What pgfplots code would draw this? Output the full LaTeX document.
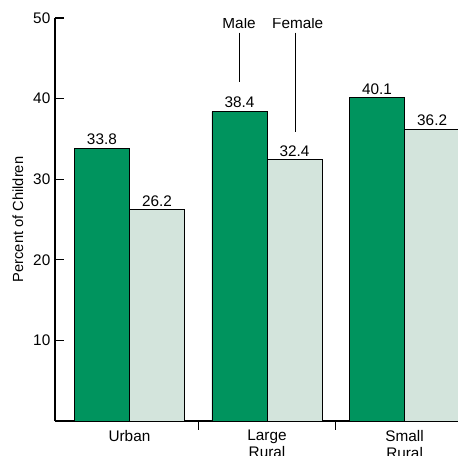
\documentclass[border=0pt]{standalone}
\usepackage{pgfplots}
\pgfplotsset{compat=1.18}
\usepackage{fontspec}
\setmainfont{Liberation Sans}
\definecolor{male}{RGB}{0,148,94}
\definecolor{female}{RGB}{211,228,220}
\begin{document}
\begin{tikzpicture}
\clip (-41.25pt,-25.5pt) rectangle (302.25pt,315.75pt);
\begin{axis}[
  at={(0,0)}, anchor=south west,
  scale only axis, width=302.25pt, height=302.25pt,
  xmin=-0.541, xmax=2.388, ymin=0, ymax=50,
  axis x line=bottom, axis y line=left,
  axis line style={-, line width=0.9pt},
  ytick={10,20,30,40,50},
  xtick={0.5,1.5}, xticklabels={},
  extra x ticks={0,1,2},
  extra x tick labels={Urban,{Large\\Rural},{Small\\Rural}},
  extra x tick style={major tick length=0pt, tick style={draw=none}},
  xticklabel style={align=center, font=\fontsize{11.5}{12.8}\selectfont, yshift=-3.5pt},
  yticklabel style={font=\fontsize{11.5}{13}\selectfont},
  /pgf/number format/assume math mode=true,
  tick align=inside,
  major tick length=6.5pt,
  tick style={line width=0.9pt, black},
  ylabel={Percent of Children},
  ylabel style={at={(axis description cs:-0.0918,0.5)}, anchor=center, rotate=0, font=\fontsize{11}{13}\selectfont},
  clip=true,
  nodes near coords={\pgfmathprintnumber[fixed,fixed zerofill,precision=1,assume math mode=true]{\pgfplotspointmeta}},
  every node near coord/.append style={font=\fontsize{11.5}{13}\selectfont, black, yshift=-1pt},
  ybar, bar width=0.4,
]
\addplot[fill=male, draw=black, line width=0.6pt, bar shift=-0.2] coordinates {(0,33.8) (1,38.4) (2,40.1)};
\addplot[fill=female, draw=black, line width=0.6pt, bar shift=0.2] coordinates {(0,26.2) (1,32.4) (2,36.2)};
\node[anchor=base, font=\fontsize{11.5}{13}\selectfont] at (axis cs:0.797,48.75) {Male};
\node[anchor=base, font=\fontsize{11.5}{13}\selectfont] at (axis cs:1.223,48.75) {Female};
\draw[line width=0.6pt] (axis cs:0.802,48.2) -- (axis cs:0.802,42.1);
\draw[line width=0.6pt] (axis cs:1.209,48.2) -- (axis cs:1.209,35.9);
\end{axis}
\end{tikzpicture}
\end{document}
